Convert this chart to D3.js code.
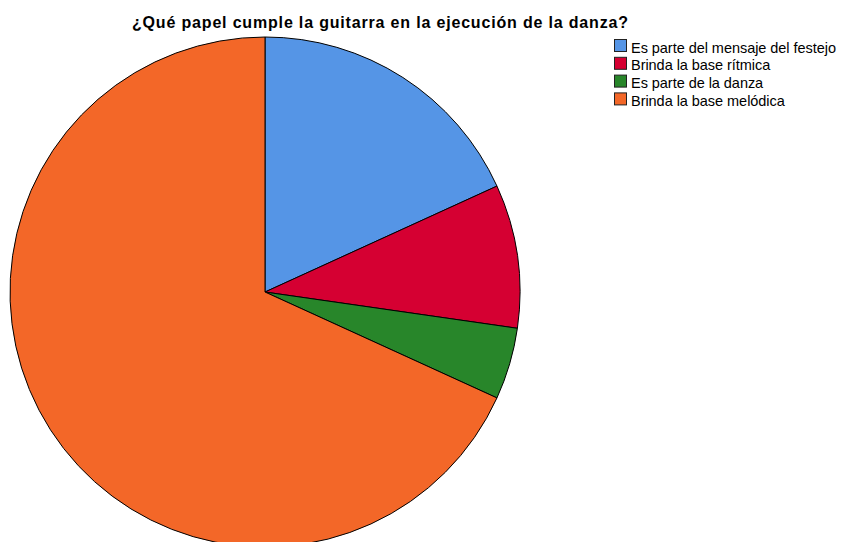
<!DOCTYPE html>
<html><head><meta charset="utf-8">
<script src="https://cdn.jsdelivr.net/npm/d3@7"></script>
<style>body{margin:0;background:#fff}svg{display:block}</style>
</head><body>
<svg id="c" width="841" height="542"></svg>
<script>
const categories = ["Es parte del mensaje del festejo","Brinda la base rítmica","Es parte de la danza","Brinda la base melódica"];
const values = [4, 2, 1, 15];
const colors = ["#5595e6","#d50032","#28862a","#f36728"];
const title = "¿Qué papel cumple la guitarra en la ejecución de la danza?";

const svg = d3.select("#c");
const cx = 265, cy = 292, r = 255;
const pie = d3.pie().sort(null).value(d => d);
const arc = d3.arc().innerRadius(0).outerRadius(r);
svg.append("g").attr("transform", `translate(${cx},${cy})`)
  .selectAll("path").data(pie(values)).join("path")
  .attr("d", arc).attr("fill", (d,i) => colors[i])
  .attr("stroke", "#000").attr("stroke-width", 1).attr("stroke-linejoin","round");

const FONT = "Liberation Sans, Arial, sans-serif";
const t = svg.append("text").attr("x", 132).attr("y", 28)
  .attr("font-family", FONT).attr("font-weight","bold")
  .attr("font-size", 16).attr("fill","#000").text(title);
{
  const w = t.node().getComputedTextLength();
  const ls = (496 - w) / (title.length - 1);
  t.attr("letter-spacing", ls);
}

const lg = svg.append("g");
let ls2 = 0;
categories.forEach((c,i) => {
  const y = 39.5 + i*17.8;
  lg.append("rect").attr("x", 614.5).attr("y", y).attr("width", 12).attr("height", 12)
    .attr("fill", colors[i]).attr("stroke", "#222").attr("stroke-width", 1);
  const tx = lg.append("text").attr("x", 631).attr("y", y+13)
    .attr("font-family", FONT).attr("font-size", 14.5).attr("fill","#000").text(c);
  if (i === 0) {
    const w = tx.node().getComputedTextLength();
    ls2 = (205 - w) / (c.length - 1);
  }
  tx.attr("letter-spacing", ls2);
});
</script>
</body></html>
